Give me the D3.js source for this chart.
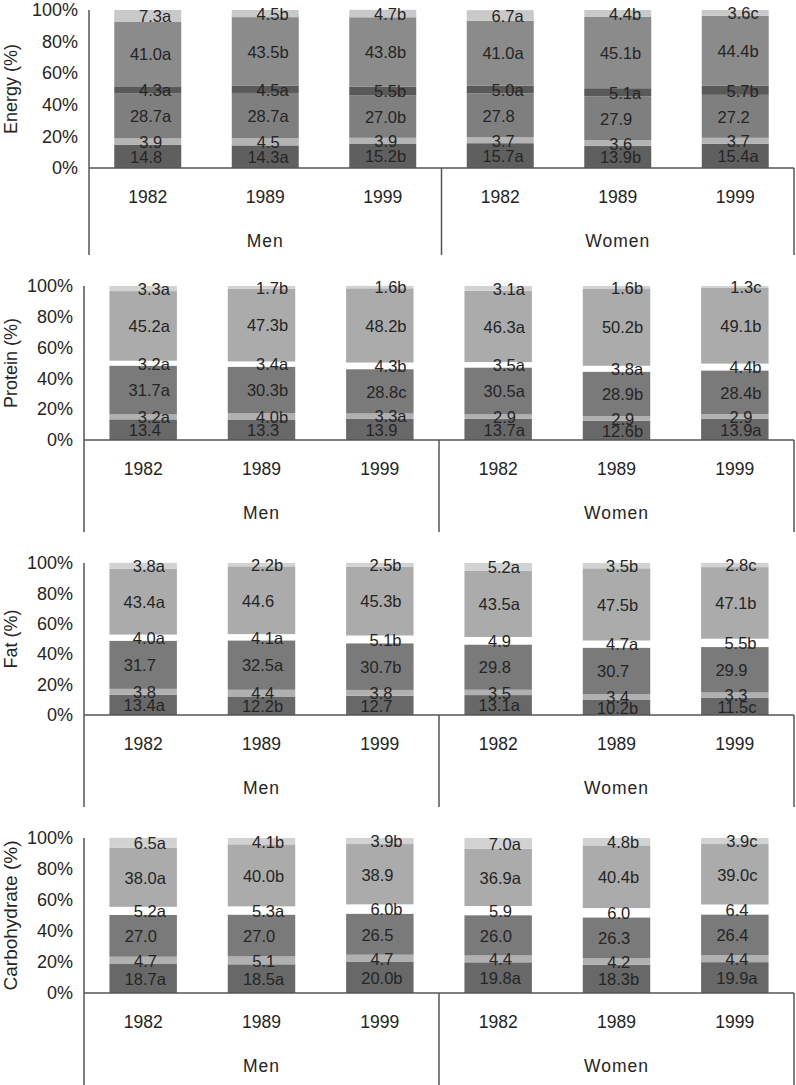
<!DOCTYPE html>
<html>
<head>
<meta charset="utf-8">
<script src="https://cdn.jsdelivr.net/npm/d3@7"></script>
<style>
  html, body { margin: 0; padding: 0; background: #fff; }
  svg { display: block; font-family: "Liberation Sans", Arial, Helvetica, sans-serif; }
</style>
</head>
<body>
<svg id="chart" width="796" height="1085"></svg>
<script>
// ---- Data ----
const years = ["1982", "1989", "1999", "1982", "1989", "1999"];
const groups = ["Men", "Women"];
const yTicks = [0, 20, 40, 60, 80, 100];

// values per bar (bottom segment first): Men 1982, 1989, 1999, Women 1982, 1989, 1999
const energyValues = [
  [14.8, 3.9, 28.7, 4.3, 41.0, 7.3],
  [14.3, 4.5, 28.7, 4.5, 43.5, 4.5],
  [15.2, 3.9, 27.0, 5.5, 43.8, 4.7],
  [15.7, 3.7, 27.8, 5.0, 41.0, 6.7],
  [13.9, 3.6, 27.9, 5.1, 45.1, 4.4],
  [15.4, 3.7, 27.2, 5.7, 44.4, 3.6]
];
const energyLetters = [
  ["", "", "a", "a", "a", "a"],
  ["a", "", "a", "a", "b", "b"],
  ["b", "", "b", "b", "b", "b"],
  ["a", "", "", "a", "a", "a"],
  ["b", "", "", "a", "b", "b"],
  ["a", "", "", "b", "b", "c"]
];

const proteinValues = [
  [13.4, 3.2, 31.7, 3.2, 45.2, 3.3],
  [13.3, 4.0, 30.3, 3.4, 47.3, 1.7],
  [13.9, 3.3, 28.8, 4.3, 48.2, 1.6],
  [13.7, 2.9, 30.5, 3.5, 46.3, 3.1],
  [12.6, 2.9, 28.9, 3.8, 50.2, 1.6],
  [13.9, 2.9, 28.4, 4.4, 49.1, 1.3]
];
const proteinLetters = [
  ["", "a", "a", "a", "a", "a"],
  ["", "b", "b", "a", "b", "b"],
  ["", "a", "c", "b", "b", "b"],
  ["a", "", "a", "a", "a", "a"],
  ["b", "", "b", "a", "b", "b"],
  ["a", "", "b", "b", "b", "c"]
];

const fatValues = [
  [13.4, 3.8, 31.7, 4.0, 43.4, 3.8],
  [12.2, 4.4, 32.5, 4.1, 44.6, 2.2],
  [12.7, 3.8, 30.7, 5.1, 45.3, 2.5],
  [13.1, 3.5, 29.8, 4.9, 43.5, 5.2],
  [10.2, 3.4, 30.7, 4.7, 47.5, 3.5],
  [11.5, 3.3, 29.9, 5.5, 47.1, 2.8]
];
const fatLetters = [
  ["a", "", "", "a", "a", "a"],
  ["b", "", "a", "a", "", "b"],
  ["", "", "b", "b", "b", "b"],
  ["a", "", "", "", "a", "a"],
  ["b", "", "", "a", "b", "b"],
  ["c", "", "", "b", "b", "c"]
];

const carbValues = [
  [18.7, 4.7, 27.0, 5.2, 38.0, 6.5],
  [18.5, 5.1, 27.0, 5.3, 40.0, 4.1],
  [20.0, 4.7, 26.5, 6.0, 38.9, 3.9],
  [19.8, 4.4, 26.0, 5.9, 36.9, 7.0],
  [18.3, 4.2, 26.3, 6.0, 40.4, 4.8],
  [19.9, 4.4, 26.4, 6.4, 39.0, 3.9]
];
const carbLetters = [
  ["a", "", "", "a", "a", "a"],
  ["a", "", "", "a", "b", "b"],
  ["b", "", "", "b", "", "b"],
  ["a", "", "", "", "a", "a"],
  ["b", "", "", "", "b", "b"],
  ["a", "", "", "", "c", "c"]
];

const panelTitles = ["Energy (%)", "Protein (%)", "Fat (%)", "Carbohydrate (%)"];

// ---- Styles / layout ----
const energyColors = ["#5f5f5f", "#b4b4b4", "#7f7f7f", "#595959", "#8b8b8b", "#c9c9c9"];
const otherColors  = ["#686868", "#b0b0b0", "#7a7a7a", "#ffffff", "#ababab", "#d2d2d2"];

const panels = [
  { title: panelTitles[0], vals: energyValues,  letters: energyLetters,  colors: energyColors, ax: 89, y100: 10,  y0: 168, bottom: 255,  lblOff: 10, titleSize: 18 },
  { title: panelTitles[1], vals: proteinValues, letters: proteinLetters, colors: otherColors,  ax: 84, y100: 286, y0: 440, bottom: 532,  lblOff: 7,  titleSize: 18 },
  { title: panelTitles[2], vals: fatValues,     letters: fatLetters,     colors: otherColors,  ax: 84, y100: 563, y0: 715, bottom: 807,  lblOff: 12, titleSize: 18 },
  { title: panelTitles[3], vals: carbValues,    letters: carbLetters,    colors: otherColors,  ax: 84, y100: 838, y0: 993, bottom: 1085, lblOff: 11, titleSize: 19 }
];

const RIGHT = 794;
const lineColor = "#555";
const textColor = "#252525";

const svg = d3.select("#chart");

panels.forEach(p => {
  const g = svg.append("g");
  const x = d3.scaleBand()
    .domain(d3.range(years.length))
    .range([p.ax, RIGHT])
    .paddingInner(0.43)
    .paddingOuter(0.215);
  const y = d3.scaleLinear().domain([0, 100]).range([p.y0, p.y100]);
  const step = x.step();

  // stacked bars
  const stacks = p.vals.map(arr => {
    let acc = 0;
    return arr.map((v, k) => { const s = { y0: acc, y1: acc + v, v, k }; acc += v; return s; });
  });

  stacks.forEach((segs, i) => {
    const bg = g.append("g");
    bg.selectAll("rect").data(segs).join("rect")
      .attr("x", x(i))
      .attr("width", x.bandwidth())
      .attr("y", d => y(d.y1))
      .attr("height", d => y(d.y0) - y(d.y1))
      .attr("fill", d => p.colors[d.k]);
  });

  // data labels
  stacks.forEach((segs, i) => {
    const right = x(i) + x.bandwidth() - p.lblOff;
    g.append("g").selectAll("text").data(segs).join("text")
      .attr("x", d => p.letters[i][d.k] ? right : right - 9)
      .attr("y", d => (y(d.y0) + y(d.y1)) / 2 + 2)
      .attr("text-anchor", "end")
      .attr("dominant-baseline", "middle")
      .attr("font-size", 16.5)
      .attr("fill", textColor)
      .text(d => d.v.toFixed(1) + p.letters[i][d.k]);
  });

  // y axis (no tick marks, labels only)
  const yAxis = d3.axisLeft(y).tickValues(yTicks).tickSize(0).tickPadding(0)
    .tickFormat(d => d + "%");
  const ag = g.append("g").attr("transform", `translate(${p.ax - 11},0)`).call(yAxis);
  ag.select(".domain").remove();
  ag.selectAll("text").attr("font-size", 18).attr("fill", textColor)
    .attr("font-family", "Liberation Sans, Arial, sans-serif");

  // axis lines
  g.append("line").attr("x1", p.ax).attr("x2", p.ax).attr("y1", p.y100).attr("y2", p.bottom)
    .attr("stroke", lineColor).attr("stroke-width", 1.5);
  g.append("line").attr("x1", p.ax).attr("x2", RIGHT).attr("y1", p.y0).attr("y2", p.y0)
    .attr("stroke", lineColor).attr("stroke-width", 1.5);
  const sepX = p.ax + 3 * step;
  [sepX, RIGHT].forEach(sx => {
    g.append("line").attr("x1", sx).attr("x2", sx).attr("y1", p.y0).attr("y2", p.bottom)
      .attr("stroke", lineColor).attr("stroke-width", 1.5);
  });

  // year labels
  g.append("g").selectAll("text").data(years).join("text")
    .attr("x", (d, i) => x(i) + x.bandwidth() / 2)
    .attr("y", p.y0 + 30)
    .attr("text-anchor", "middle")
    .attr("dominant-baseline", "middle")
    .attr("font-size", 17.5)
    .attr("fill", textColor)
    .text(d => d);

  // group labels
  g.append("g").selectAll("text").data(groups).join("text")
    .attr("x", (d, j) => x(j * 3 + 1) + x.bandwidth() / 2)
    .attr("y", p.y0 + 74)
    .attr("text-anchor", "middle")
    .attr("dominant-baseline", "middle")
    .attr("font-size", 17.5)
    .attr("letter-spacing", 1)
    .attr("fill", textColor)
    .text(d => d);

  // y title
  g.append("text")
    .attr("transform", `translate(12,${(p.y0 + p.y100) / 2}) rotate(-90)`)
    .attr("text-anchor", "middle")
    .attr("dominant-baseline", "middle")
    .attr("font-size", p.titleSize)
    .attr("fill", textColor)
    .text(p.title);
});
</script>
</body>
</html>
